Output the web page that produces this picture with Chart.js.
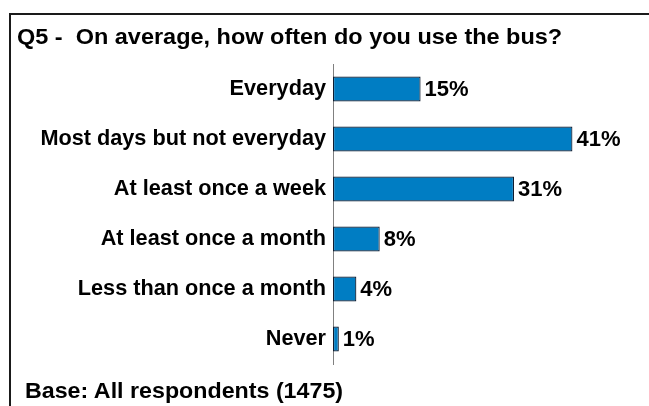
<!DOCTYPE html>
<html>
<head>
<meta charset="utf-8">
<script src="https://cdn.jsdelivr.net/npm/chart.js@4/dist/chart.umd.min.js"></script>
<style>
  html, body { margin: 0; padding: 0; background: #fff; }
  #wrap { position: relative; width: 649px; height: 406px; overflow: hidden; }
  #frame { position: absolute; left: 9px; top: 13px; width: 700px; height: 500px;
    border-left: 2px solid #1a1a1a; border-top: 2px solid #1a1a1a; }
  .txt { position: absolute; font-family: 'Liberation Sans', Arial, sans-serif;
    font-weight: bold; font-size: 22px; line-height: 22px; color: #000; white-space: nowrap;
    transform-origin: left center; }
  #title { left: 17px; top: 26px; transform: scaleX(1.067); }
  #base { left: 25px; top: 380px; transform: scaleX(1.056); }
  canvas { position: absolute; left: 0; top: 0; }
</style>
</head>
<body>
<div id="wrap">
  <div id="frame"></div>
  <canvas id="myChart" width="649" height="406"></canvas>
  <div class="txt" id="title">Q5 -&nbsp; On average, how often do you use the bus?</div>
  <div class="txt" id="base">Base: All respondents (1475)</div>
</div>
<script>
'use strict';

let categories = ['Everyday', 'Most days but not everyday', 'At least once a week',
  'At least once a month', 'Less than once a month', 'Never'];
let percentValues = [15, 41, 31, 8, 4, 1];
let axisMin = 0;
let axisMax = 50;

// draws the "15%" style labels next to each bar
let valueLabels = {
  id: 'valueLabels',
  afterDatasetsDraw(chart) {
    let ctx = chart.ctx;
    let meta = chart.getDatasetMeta(0);
    ctx.save();
    ctx.font = 'bold 22px "Liberation Sans", Arial, sans-serif';
    ctx.fillStyle = '#000';
    ctx.textAlign = 'left';
    ctx.textBaseline = 'middle';
    meta.data.forEach(function (bar, i) {
      ctx.fillText(percentValues[i] + '%', bar.x + 4, bar.y + 1);
    });
    ctx.restore();
  }
};

let ctx = document.getElementById('myChart').getContext('2d');
let chart = new Chart(ctx, {
  type: 'bar',
  data: {
    labels: categories,
    datasets: [{
      data: percentValues,
      backgroundColor: 'rgb(0,125,195)',
      borderColor: '#0f1c30',
      borderWidth: 1.2,
      borderSkipped: false,
      categoryPercentage: 1,
      barPercentage: 0.5
    }]
  },
  options: {
    indexAxis: 'y',
    responsive: false,
    animation: false,
    layout: { padding: { top: 64, bottom: 42, left: 0, right: 24 } },
    plugins: {
      legend: { display: false },
      title: { display: false },
      tooltip: { enabled: false }
    },
    scales: {
      x: {
        display: false,
        min: axisMin,
        max: axisMax
      },
      y: {
        afterFit(scale) { scale.width = 333; },
        grid: { display: false, drawTicks: false },
        border: { display: true, color: '#808080', width: 1 },
        ticks: {
          padding: 7,
          color: '#000',
          font: { family: '"Liberation Sans", Arial, sans-serif', size: 21.7, weight: 'bold' }
        }
      }
    }
  },
  plugins: [valueLabels]
});
</script>
</body>
</html>
